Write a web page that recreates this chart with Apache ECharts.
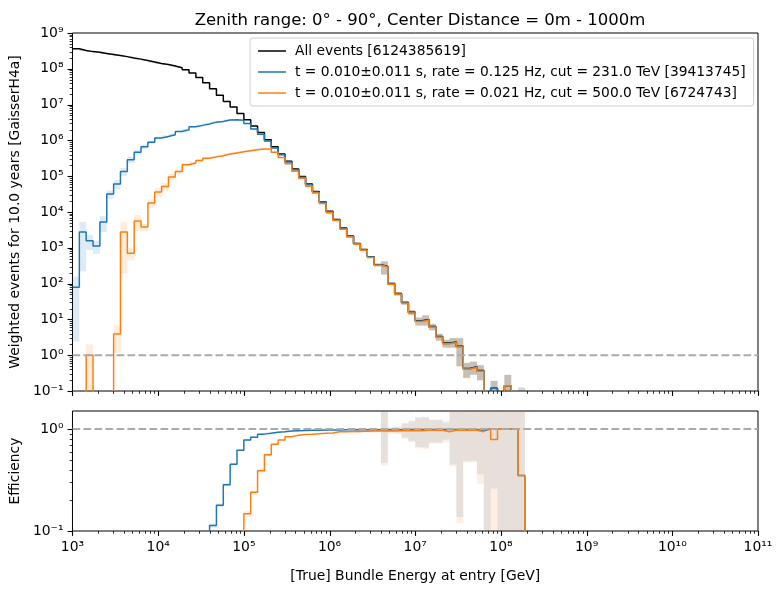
<!DOCTYPE html>
<html>
<head>
<meta charset="utf-8">
<script src="https://cdn.jsdelivr.net/npm/echarts@6/dist/echarts.min.js"></script>
<style>
  html, body { margin: 0; padding: 0; background: #fff; }
  #chart { width: 783px; height: 589px; }
</style>
</head>
<body>
<div id="chart"></div>
<script>
// histogram binning: 0.08 decade wide bins starting at 1e3 GeV
const binStartLog = 3
const binWidthLog = 0.08

const seriesNames = [
  'All events [6124385619]',
  't = 0.010±0.011 s, rate = 0.125 Hz, cut = 231.0 TeV [39413745]',
  't = 0.010±0.011 s, rate = 0.021 Hz, cut = 500.0 TeV [6724743]'
]

// log10 of weighted events per bin (null = empty bin)
const allEventsLog = [
  8.56, 8.51, 8.48, 8.46, 8.43, 8.40, 8.37, 8.34, 8.30, 8.27,
  8.23, 8.19, 8.15, 8.12, 8.08, 8.03, 7.97, 7.88, 7.76, 7.61,
  7.44, 7.26, 7.09, 6.93, 6.75, 6.58, 6.40, 6.22, 6.02, 5.82,
  5.62, 5.42, 5.20, 4.99, 4.78, 4.57, 4.28, 4.02, 3.79, 3.55,
  3.33, 3.12, 2.95, 2.75, 2.53, 2.48, 2.00, 1.72, 1.47, 1.20,
  0.96, 1.00, 0.80, 0.52, 0.34, 0.37, 0.25, -0.37, -0.32, -0.43,
  -1.30, -0.92, -1.50, -0.85, -1.50, -1.20, null
]
const trig1Log = [
  1.90, 3.44, 3.20, 3.05, 3.72, 4.50, 4.78, 5.13, 5.46, 5.67,
  5.82, 5.95, 6.07, 6.11, 6.16, 6.25, 6.30, 6.38, 6.42, 6.46,
  6.51, 6.53, 6.57, 6.58, 6.56, 6.47, 6.32, 6.17, 5.98, 5.79,
  5.60, 5.40, 5.18, 4.97, 4.76, 4.56, 4.27, 4.01, 3.78, 3.54,
  3.32, 3.11, 2.94, 2.74, 2.52, 2.47, 1.99, 1.71, 1.46, 1.19,
  0.95, 0.99, 0.79, 0.51, 0.33, 0.36, 0.24, -0.38, -0.33, -0.45,
  -1.30, -0.92, -1.50, -0.85, -1.50, -1.65, null
]
const trig2Log = [
  null, null, 0.00, null, null, null, 0.59, 3.44, 2.85, 3.75,
  3.58, 4.25, 4.56, 4.71, 4.98, 5.13, 5.32, 5.37, 5.44, 5.50,
  5.54, 5.57, 5.62, 5.65, 5.68, 5.71, 5.74, 5.76, 5.76, 5.67,
  5.52, 5.35, 5.14, 4.94, 4.72, 4.53, 4.24, 3.98, 3.76, 3.52,
  3.30, 3.10, 2.93, 2.73, 2.51, 2.46, 1.98, 1.70, 1.45, 1.18,
  0.94, 0.98, 0.78, 0.50, 0.32, 0.35, 0.23, -0.39, -0.34, -0.45,
  -1.30, -1.02, -1.50, -0.85, -1.50, -1.65, null
]

// relative statistical error per bin
const allEventsRelErr = [
  0.03, 0.03, 0.03, 0.03, 0.03, 0.03, 0.03, 0.03, 0.03, 0.03,
  0.03, 0.03, 0.03, 0.03, 0.03, 0.03, 0.03, 0.03, 0.03, 0.03,
  0.03, 0.03, 0.03, 0.03, 0.03, 0.03, 0.03, 0.03, 0.03, 0.03,
  0.03, 0.03, 0.03, 0.03, 0.03, 0.03, 0.05, 0.05, 0.05, 0.05,
  0.05, 0.05, 0.05, 0.05, 0.10, 0.40, 0.08, 0.10, 0.12, 0.15,
  0.25, 0.32, 0.20, 0.22, 0.25, 0.30, 0.72, 0.45, 0.40, 0.45,
  1.00, 0.60, 1.00, 1.00, 1.00, 1.00, 0
]
const trig1RelErr = [
  0.97, 0.92, 0.45, 0.40, 0.47, 0.25, 0.28, 0.25, 0.20, 0.14,
  0.12, 0.10, 0.09, 0.08, 0.07, 0.06, 0.06, 0.05, 0.05, 0.05,
  0.05, 0.05, 0.05, 0.05, 0.05, 0.05, 0.05, 0.05, 0.05, 0.05,
  0.05, 0.05, 0.05, 0.05, 0.05, 0.05, 0.05, 0.05, 0.05, 0.05,
  0.05, 0.05, 0.05, 0.05, 0.10, 0.40, 0.08, 0.10, 0.12, 0.15,
  0.25, 0.32, 0.20, 0.22, 0.25, 0.30, 0.72, 0.45, 0.40, 0.45,
  1.00, 0.60, 1.00, 1.00, 1.00, 1.00, 0
]
const trig2RelErr = [
  0, 0, 1.00, 0, 0, 0, 0.70, 0.93, 0.38, 0.47,
  0.23, 0.28, 0.30, 0.25, 0.20, 0.15, 0.12, 0.10, 0.08, 0.08,
  0.08, 0.08, 0.06, 0.06, 0.05, 0.05, 0.05, 0.05, 0.05, 0.05,
  0.05, 0.05, 0.05, 0.05, 0.05, 0.05, 0.05, 0.05, 0.05, 0.05,
  0.05, 0.05, 0.05, 0.05, 0.10, 0.40, 0.08, 0.10, 0.12, 0.15,
  0.25, 0.32, 0.20, 0.22, 0.25, 0.30, 0.72, 0.45, 0.40, 0.45,
  1.00, 1.00, 1.00, 1.00, 1.00, 1.00, 0
]

// efficiency (lower panel) and its absolute error
const trig1Eff = [
  0, 0, 0, 0, 0, 0, 0, 0, 0, 0,
  0.004, 0.006, 0.008, 0.010, 0.012, 0.017, 0.021, 0.031, 0.045, 0.071,
  0.113, 0.179, 0.284, 0.45, 0.62, 0.78, 0.83, 0.89, 0.91, 0.93,
  0.94, 0.955, 0.96, 0.965, 0.97, 0.972, 0.975, 0.977, 0.978, 0.98,
  0.98, 0.982, 0.983, 0.983, 0.984, 0.985, 0.985, 0.985, 0.986, 0.986,
  0.986, 0.987, 0.987, 0.987, 0.987, 0.987, 0.987, 0.987, 0.987, 0.96,
  1, 1, 1, 1, 1, 0.35, 0
]
const trig2Eff = [
  0, 0, 0, 0, 0, 0, 0, 0, 0, 0,
  0, 0, 0, 0, 0, 0, 0.002, 0.003, 0.005, 0.008,
  0.012, 0.02, 0.034, 0.052, 0.085, 0.148, 0.24, 0.39, 0.56, 0.71,
  0.78, 0.84, 0.87, 0.885, 0.89, 0.90, 0.91, 0.915, 0.94, 0.94,
  0.945, 0.945, 0.95, 0.955, 0.955, 0.955, 0.957, 0.96, 0.96, 0.96,
  0.963, 0.97, 0.97, 0.97, 0.94, 0.97, 0.97, 0.97, 0.97, 0.94,
  1, 0.79, 1, 1, 1, 0.35, 0
]
const trig1EffErr = [
  0, 0, 0, 0, 0, 0, 0, 0, 0, 0,
  0, 0, 0, 0, 0, 0, 0, 0, 0, 0,
  0.006, 0.008, 0.010, 0.012, 0.014, 0.014, 0.013, 0.012, 0.012, 0.011,
  0.01, 0.01, 0.01, 0.01, 0.01, 0.01, 0.01, 0.01, 0.01, 0.01,
  0.01, 0.04, 0.01, 0.04, 0.03, 0.52, 0.06, 0.07, 0.16, 0.22,
  0.32, 0.33, 0.25, 0.25, 0.20, 0.54, 0.85, 0.50, 0.50, 0.60,
  1.2, 0.74, 1.2, 1.2, 1.2, 1.2, 0
]
const trig2EffErr = [
  0, 0, 0, 0, 0, 0, 0, 0, 0, 0,
  0, 0, 0, 0, 0, 0, 0, 0, 0, 0,
  0.002, 0.003, 0.004, 0.005, 0.007, 0.010, 0.014, 0.016, 0.016, 0.014,
  0.012, 0.012, 0.01, 0.01, 0.01, 0.01, 0.01, 0.01, 0.01, 0.01,
  0.01, 0.04, 0.01, 0.04, 0.03, 0.52, 0.06, 0.07, 0.16, 0.22,
  0.32, 0.33, 0.25, 0.25, 0.20, 0.54, 0.85, 0.50, 0.50, 0.65,
  1.2, 0.80, 1.2, 1.2, 1.2, 1.2, 0
]

const xTickExps = [3, 4, 5, 6, 7, 8, 9, 10, 11]
const yTopTickExps = [-1, 0, 1, 2, 3, 4, 5, 6, 7, 8, 9]
const yBotTickExps = [-1, 0]

const FLOOR = 1e-4
const FONT = 'DejaVu Sans'
const nBins = allEventsLog.length
const edges = []
for (let i = 0; i <= nBins; i++) edges.push(Math.pow(10, binStartLog + binWidthLog * i))

function fromLog(arr) {
  return arr.map(v => (v === null ? 0 : Math.pow(10, v)))
}
const allEvents = fromLog(allEventsLog)
const trig1 = fromLog(trig1Log)
const trig2 = fromLog(trig2Log)

function stepData(vals) {
  const pts = vals.map((v, i) => [edges[i], v > 0 ? v : FLOOR])
  const last = vals[vals.length - 1]
  pts.push([edges[nBins], last > 0 ? last : FLOOR])
  return pts
}
function bandData(vals, lo, hi) {
  const out = []
  vals.forEach((v, i) => {
    if (!(v > 0) || !(hi[i] > v)) return
    out.push([edges[i], edges[i + 1], Math.max(lo[i], FLOOR), hi[i]])
  })
  return out
}
function relBand(vals, rel) {
  return bandData(vals, vals.map((v, i) => v * (1 - rel[i])), vals.map((v, i) => v * (1 + rel[i])))
}
function absBand(vals, err) {
  return bandData(vals, vals.map((v, i) => v - err[i]), vals.map((v, i) => v + err[i]))
}

function renderBand(params, api) {
  const cs = params.coordSys
  const p0 = api.coord([api.value(0), api.value(3)])
  const p1 = api.coord([api.value(1), api.value(2)])
  const rect = echarts.graphic.clipRectByRect(
    { x: p0[0], y: p0[1], width: p1[0] - p0[0], height: p1[1] - p0[1] },
    { x: cs.x, y: cs.y, width: cs.width, height: cs.height }
  )
  if (!rect) return null
  return { type: 'rect', shape: rect, style: { fill: api.visual('color') } }
}

function renderTick(params, api) {
  const cs = params.coordSys
  const p = api.coord([api.value(0), api.value(1)])
  const len = api.value(2)
  const w = len > 4 ? 1.1 : 0.8
  let shape
  if (api.value(3) === 0) {
    const x = Math.round(p[0]) + 0.5
    shape = { x1: x, y1: cs.y + cs.height, x2: x, y2: cs.y + cs.height + len }
  } else {
    const y = Math.round(p[1]) + 0.5
    shape = { x1: cs.x, y1: y, x2: cs.x - len, y2: y }
  }
  return { type: 'line', shape: shape, style: { stroke: '#000', lineWidth: w } }
}

function tickData(xExps, yExps, yMin, yMax) {
  const out = []
  xExps.forEach((e, k) => {
    out.push([Math.pow(10, e), yMin, 4.9, 0])
    if (k < xExps.length - 1) {
      for (let m = 2; m <= 9; m++) out.push([m * Math.pow(10, e), yMin, 2.8, 0])
    }
  })
  yExps.forEach(e => {
    out.push([1e3, Math.pow(10, e), 4.9, 1])
    for (let m = 2; m <= 9; m++) {
      const v = m * Math.pow(10, e)
      if (v < yMax) out.push([1e3, v, 2.8, 1])
    }
  })
  return out
}

const SUP = { '-': '⁻', '0': '⁰', '1': '¹', '2': '²', '3': '³', '4': '⁴', '5': '⁵', '6': '⁶', '7': '⁷', '8': '⁸', '9': '⁹' }
function powLabel(v) {
  const e = Math.log10(v)
  const r = Math.round(e)
  if (Math.abs(e - r) > 1e-6) return ''
  return '10' + String(r).split('').map(c => SUP[c]).join('')
}

const colors = ['#000000', '#1f77b4', '#ff7f0e']
const bandColors = ['rgba(0,0,0,0.15)', 'rgba(31,119,180,0.15)', 'rgba(255,127,14,0.15)']
const effBandColors = ['rgba(31,119,180,0.12)', 'rgba(255,127,14,0.12)']

function logAxis(gridIndex, min, max, showLabels, extra) {
  return Object.assign({
    type: 'log',
    logBase: 10,
    gridIndex: gridIndex,
    min: min,
    max: max,
    interval: 1,
    axisLine: { show: false },
    axisTick: { show: false },
    splitLine: { show: false },
    minorTick: { show: false },
    axisLabel: {
      show: showLabels,
      formatter: powLabel,
      color: '#000',
      fontFamily: FONT,
      fontSize: 13.9,
      margin: 9
    },
    nameTextStyle: { color: '#000', fontFamily: FONT, fontSize: 13.9 }
  }, extra || {})
}

function stepLine(name, data, color, xi, yi, z) {
  return {
    type: 'line',
    name: name,
    xAxisIndex: xi,
    yAxisIndex: yi,
    data: data,
    step: 'end',
    symbol: 'none',
    silent: true,
    z: z,
    lineStyle: { color: color, width: 1.5 },
    itemStyle: { color: color }
  }
}
function band(data, color, xi, yi) {
  return {
    type: 'custom',
    xAxisIndex: xi,
    yAxisIndex: yi,
    data: data,
    silent: true,
    z: 1,
    itemStyle: { color: color },
    renderItem: renderBand
  }
}
function unityLine(xi, yi) {
  return {
    type: 'line',
    xAxisIndex: xi,
    yAxisIndex: yi,
    data: [[1e3, 1], [1e11, 1]],
    symbol: 'none',
    silent: true,
    z: 5,
    lineStyle: { color: '#aaaaaa', width: 2, type: [7.7, 3.3] }
  }
}
function ticks(xi, yi, data) {
  return {
    type: 'custom',
    xAxisIndex: xi,
    yAxisIndex: yi,
    data: data,
    silent: true,
    clip: false,
    z: 10,
    renderItem: renderTick
  }
}

const chart = echarts.init(document.getElementById('chart'), null, { renderer: 'canvas' })
chart.setOption({
  animation: false,
  backgroundColor: '#fff',
  title: {
    text: 'Zenith range: 0° - 90°, Center Distance = 0m - 1000m',
    left: 415,
    top: 7,
    textAlign: 'center',
    textStyle: { color: '#000', fontFamily: FONT, fontSize: 16.5, fontWeight: 'normal' }
  },
  legend: {
    data: seriesNames,
    orient: 'vertical',
    left: 250,
    top: 38,
    padding: [6, 8, 6, 8],
    itemGap: 7,
    itemWidth: 28,
    itemHeight: 1.5,
    icon: 'rect',
    backgroundColor: 'rgba(255,255,255,0.8)',
    borderColor: '#cccccc',
    borderWidth: 1,
    borderRadius: 3,
    textStyle: { color: '#000', fontFamily: FONT, fontSize: 13.8, lineHeight: 14, padding: [0, 0, 0, 4] }
  },
  grid: [
    { left: 72, top: 33, width: 686, height: 358, show: true, borderColor: '#000', borderWidth: 1, backgroundColor: 'transparent' },
    { left: 72, top: 411, width: 686, height: 120, show: true, borderColor: '#000', borderWidth: 1, backgroundColor: 'transparent' }
  ],
  xAxis: [
    logAxis(0, 1e3, 1e11, false),
    logAxis(1, 1e3, 1e11, true, {
      name: '[True] Bundle Energy at entry [GeV]',
      nameLocation: 'middle',
      nameGap: 38
    })
  ],
  yAxis: [
    logAxis(0, 0.1, 1e9, true, {
      name: 'Weighted events for 10.0 years [GaisserH4a]',
      nameLocation: 'middle',
      nameGap: 48
    }),
    logAxis(1, 0.1, 1.5, true, {
      name: 'Efficiency',
      nameLocation: 'middle',
      nameGap: 48
    })
  ],
  series: [
    band(relBand(allEvents, allEventsRelErr), bandColors[0], 0, 0),
    band(relBand(trig1, trig1RelErr), bandColors[1], 0, 0),
    band(relBand(trig2, trig2RelErr), bandColors[2], 0, 0),
    stepLine(seriesNames[0], stepData(allEvents), colors[0], 0, 0, 3),
    stepLine(seriesNames[1], stepData(trig1), colors[1], 0, 0, 3),
    stepLine(seriesNames[2], stepData(trig2), colors[2], 0, 0, 3),
    unityLine(0, 0),
    ticks(0, 0, tickData(xTickExps, yTopTickExps, 0.1, 1e9)),

    band(absBand(trig1Eff, trig1EffErr), effBandColors[0], 1, 1),
    band(absBand(trig2Eff, trig2EffErr), effBandColors[1], 1, 1),
    stepLine('', stepData(trig1Eff), colors[1], 1, 1, 3),
    stepLine('', stepData(trig2Eff), colors[2], 1, 1, 3),
    unityLine(1, 1),
    ticks(1, 1, tickData(xTickExps, yBotTickExps, 0.1, 1.5))
  ]
})
</script>
</body>
</html>
